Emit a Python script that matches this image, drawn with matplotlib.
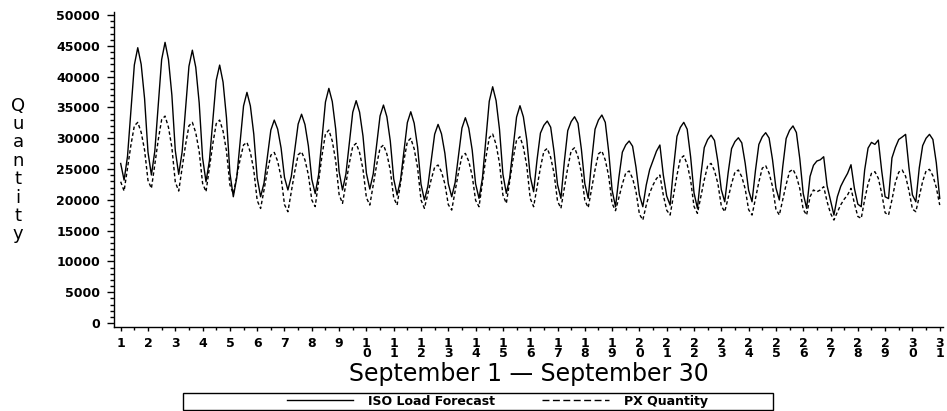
import numpy as np
import pandas as pd
import matplotlib
matplotlib.use("Agg")
import matplotlib.pyplot as plt
from matplotlib.ticker import FixedLocator, MultipleLocator
from matplotlib.lines import Line2D
from matplotlib.patches import Rectangle

# ---- data: 3-hourly readings (00,03,06,09,12,15,18,21 h), Sep 1 .. Sep 30, then Oct 1 00h ----
iso_load_forecast = [
    25900, 23200, 27070, 34380, 41900, 44700, 42010, 36430,   # 1
    27750, 24030, 27910, 35230, 42770, 45570, 42780, 37000,   # 2
    28000, 24140, 27770, 34620, 41680, 44300, 41520, 35760,   # 3
    26790, 22940, 26350, 32790, 39420, 41880, 39100, 33330,   # 4
    24350, 20500, 23550, 29310, 35250, 37450, 35250, 30670,   # 5
    23550, 20500, 22740, 26970, 31330, 32950, 31480, 28410,   # 6
    23640, 21600, 23810, 28000, 32300, 33900, 32220, 28740,   # 7
    23320, 21000, 24080, 29890, 35880, 38100, 35960, 31500,   # 8
    24570, 21600, 24210, 29140, 34220, 36100, 34240, 30360,   # 9
    24330, 21750, 24210, 28840, 33620, 35390, 33490, 29550,   # 10
    23410, 20780, 23210, 27810, 32540, 34300, 32440, 28570,   # 11
    22550, 19970, 22180, 26360, 30650, 32250, 30720, 27550,   # 12
    22620, 20500, 22810, 27170, 31660, 33330, 31630, 28090,   # 13
    22600, 20240, 23500, 29660, 36000, 38360, 36110, 31440,   # 14
    24170, 21050, 23610, 28450, 33430, 35280, 33470, 29700,   # 15
    23830, 21320, 26480, 30840, 32100, 32790, 31790, 27770,   # 16
    22500, 20240, 26200, 31240, 32700, 33490, 32430, 28190,   # 17
    22630, 20240, 26330, 31470, 32960, 33770, 32580, 27810,   # 18
    21560, 18880, 23680, 27740, 28910, 29550, 28700, 25280,   # 19
    20800, 18880, 22390, 24890, 26400, 27900, 28900, 24030,   # 20
    20610, 19150, 25190, 30300, 31770, 32580, 31460, 27000,   # 21
    21130, 18620, 23970, 28480, 29790, 30500, 29640, 26180,   # 22
    21640, 19690, 24370, 28310, 29460, 30080, 29250, 25920,   # 23
    21560, 19690, 24740, 28990, 30230, 30900, 30030, 26530,   # 24
    21940, 19970, 25380, 29960, 31280, 32000, 30930, 26650,   # 25
    21030, 18620, 23800, 25600, 26300, 26500, 27000, 22270,   # 26
    19900, 17530, 20500, 22200, 23300, 24300, 25700, 21860,   # 27
    19300, 18880, 24830, 28400, 29330, 29000, 29700, 24700,   # 28
    20500, 20200, 26800, 28500, 29800, 30200, 30630, 25160,   # 29
    20800, 19690, 25160, 28800, 30000, 30630, 29800, 26000,   # 30
    20240,                                                    # Oct 1 00h
]

px_quantity = [
    22940, 21430, 25110, 28900, 32020, 32580, 30970, 28080,   # 1
    23150, 21860, 25730, 29730, 33010, 33600, 31780, 28490,   # 2
    22890, 21430, 25110, 28900, 32020, 32580, 30890, 27850,   # 3
    22670, 21320, 25160, 29110, 32370, 32950, 31160, 27930,   # 4
    22430, 21000, 23750, 26580, 28910, 29330, 27720, 24820,   # 5
    19890, 18600, 21600, 24700, 27250, 27700, 26260, 23660,   # 6
    19230, 18070, 21280, 24590, 27310, 27800, 26470, 24060,   # 7
    19970, 18900, 23000, 27230, 30710, 31330, 29550, 26330,   # 8
    20860, 19430, 22640, 25960, 28680, 29170, 27670, 24960,   # 9
    20350, 19150, 22370, 25680, 28410, 28900, 27440, 24810,   # 10
    20320, 19150, 22720, 26410, 29440, 29980, 28280, 25210,   # 11
    19980, 18620, 20940, 23330, 25300, 25650, 24550, 22580,   # 12
    19220, 18340, 21380, 24500, 27080, 27540, 26240, 23900,   # 13
    19920, 18880, 22770, 26790, 30090, 30680, 28990, 25960,   # 14
    20780, 19430, 23000, 26680, 29710, 30250, 28550, 25480,   # 15
    20240, 18880, 22010, 25230, 27880, 28350, 26890, 24260,   # 16
    19790, 18620, 21870, 25210, 27970, 28460, 27000, 24370,   # 17
    19900, 18730, 21760, 24890, 27460, 27920, 26470, 23850,   # 18
    19400, 18240, 20370, 22560, 24360, 24680, 23490, 21340,   # 19
    17680, 16720, 19130, 21110, 22420, 23450, 24030, 20780,   # 20
    18310, 17530, 20710, 23980, 26680, 27160, 25760, 23230,   # 21
    18920, 17800, 20480, 23240, 25510, 25920, 24740, 22620,   # 22
    19010, 18070, 20300, 22610, 24500, 24840, 23740, 21770,   # 23
    18410, 17530, 20170, 22900, 25140, 25540, 24340, 22180,   # 24
    18490, 17530, 19980, 22500, 24580, 24950, 23840, 21830,   # 25
    18420, 17530, 20500, 21600, 21300, 21600, 22130, 19700,   # 26
    17800, 16720, 18000, 19200, 20100, 20800, 21860, 19420,   # 27
    17300, 16990, 20020, 22600, 24300, 24570, 23510, 21050,   # 28
    17900, 17530, 20000, 22800, 24500, 24840, 23820, 21460,   # 29
    18500, 18070, 20500, 23000, 24700, 24950, 23900, 22000,   # 30
    19150,                                                    # Oct 1 00h
]

day_ticks = list(range(1, 32))
y_ticks = list(range(0, 50001, 5000))
series_labels = ["ISO Load Forecast", "PX Quantity"]
x_title = "September 1 \u2014 September 30"
y_title = "Quantity"

# ---- time axis in day units (Sep 1 00h = 1) ----
times = pd.date_range("2000-09-01", periods=len(iso_load_forecast), freq="3h")
xday = 1 + (times - times[0]) / pd.Timedelta(days=1)

W, H = 947, 411
fig = plt.figure(figsize=(W / 100, H / 100), dpi=100)
fig.patch.set_facecolor("white")

ax = fig.add_axes([114 / W, 84 / H, (943 - 114) / W, (399 - 84) / H])
ax.plot(xday, iso_load_forecast, color="black", lw=1.0, solid_joinstyle="round")
ax.plot(xday, px_quantity, color="black", lw=1.0, dashes=(2.5, 1.8))

ax.set_xlim(0.755, 31.12)
ax.set_ylim(-650, 50500)
for s in ("top", "right"):
    ax.spines[s].set_visible(False)
for s in ("left", "bottom"):
    ax.spines[s].set_linewidth(1.0)

tick_font = dict(family="DejaVu Sans", weight="bold", size=9)

ax.yaxis.set_major_locator(FixedLocator(y_ticks))
ax.yaxis.set_minor_locator(MultipleLocator(1000))
ax.set_yticklabels([str(v) for v in y_ticks], fontdict=tick_font)
ax.tick_params(axis="y", which="major", length=5, width=1, direction="out", pad=5)
ax.tick_params(axis="y", which="minor", length=3, width=1, direction="out")

ax.xaxis.set_major_locator(FixedLocator(day_ticks))
ax.xaxis.set_minor_locator(MultipleLocator(0.5))
ax.set_xticklabels(["\n".join(str(d)) for d in day_ticks], fontdict=tick_font,
                   linespacing=0.75, va="top")
ax.tick_params(axis="x", which="major", length=3, width=1, direction="out", pad=4)
ax.tick_params(axis="x", which="minor", length=1.8, width=1, direction="out")

fig.text(528.5 / W, (H - 374) / H, x_title, ha="center", va="center",
         fontsize=17, family="DejaVu Sans")
fig.text(18 / W, (H - 170) / H, "\n".join(y_title), ha="center", va="center",
         fontsize=13, family="DejaVu Sans", linespacing=1.03)

handles = [Line2D([], [], color="black", lw=1.0),
           Line2D([], [], color="black", lw=1.0, dashes=(5, 2.5))]
fig.legend(handles, series_labels, loc="center", bbox_to_anchor=(497 / W, (H - 401) / H),
           ncol=2, frameon=False, handlelength=5.3, handletextpad=1.2,
           columnspacing=3.8, prop=dict(family="DejaVu Sans", weight="bold", size=9))
fig.add_artist(Rectangle((183 / W, 1.5 / H), 590 / W, 17 / H, transform=fig.transFigure,
                         fill=False, lw=1.0, edgecolor="black"))

fig.savefig("out.png", dpi=100, facecolor="white")
